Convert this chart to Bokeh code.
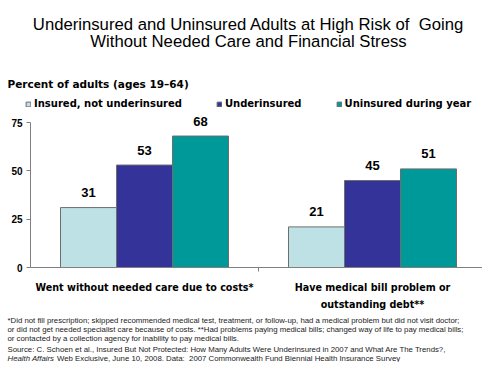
from bokeh.plotting import figure
from bokeh.models import ColumnDataSource, Range1d, FixedTicker, Label
from bokeh.core.properties import value
from bokeh.embed import file_html
from bokeh.resources import INLINE

# ---- data ----
categories = ["Went without needed care due to costs*",
              "Have medical bill problem or\noutstanding debt**"]
series_names = ["Insured, not underinsured", "Underinsured", "Uninsured during year"]
insured = [31, 21]
underinsured = [53, 45]
uninsured = [68, 51]
y_ticks = [0, 25, 50, 75]
colors = ["#BDE1E4", "#333399", "#009999"]

title_lines = ["Underinsured and Uninsured Adults at High Risk of\u00a0 Going",
               "Without Needed Care and Financial Stress"]
y_title = "Percent of adults (ages 19\u201364)"
notes = [
    "*Did not fill prescription; skipped recommended medical test, treatment, or follow-up, had a medical problem but did not visit doctor;",
    "or did not get needed specialist care because of costs. **Had problems paying medical bills; changed way of life to pay medical bills;",
    "or contacted by a collection agency for inability to pay medical bills.",
    "Source: C. Schoen et al., Insured But Not Protected: How Many Adults Were Underinsured in 2007 and What Are The Trends?,",
]
source_italic = "Health Affairs"
source_rest = "Web Exclusive, June 10, 2008. Data:\u00a0 2007 Commonwealth Fund Biennial Health Insurance Survey"

# ---- layout (frame covers the whole figure; axes drawn at fixed locations) ----
W, H = 482, 362
AX_X, AX_Y = 30, 267          # pixel position of the axes origin
KX = 228.0                    # pixels per category
KY = 145 / 75.0               # pixels per percent


def X(px):
    return (px - AX_X) / KX


def Y(py):
    return (AX_Y - py) / KY


FONT = "Liberation Sans"
BOLD = "DejaVu Sans"
NOTE_SIZE = "7.8px"

p = figure(width=W, height=H, output_backend="svg", toolbar_location=None,
           x_range=Range1d(X(0), X(W)), y_range=Range1d(Y(H), Y(0)),
           min_border=0, min_border_left=0, min_border_right=0,
           min_border_top=0, min_border_bottom=0,
           background_fill_color="white", border_fill_color="white")
p.outline_line_color = None
p.grid.visible = False

bw = 56 / 228.0
offsets = [-bw, 0.0, bw]
centers = [i + 0.5 for i in range(len(categories))]
all_vals = [insured, underinsured, uninsured]

for name, vals, col, off in zip(series_names, all_vals, colors, offsets):
    src = ColumnDataSource(dict(x=[c + off for c in centers], top=vals,
                                lbl=[str(v) for v in vals]))
    p.vbar(x="x", top="top", bottom=0, width=bw, source=src, fill_color=col,
           line_color="#6E6E6E", line_width=1, legend_label=name)
    p.text(x="x", y="top", text="lbl", source=src, text_align="center",
           text_baseline="middle", y_offset=-15, text_font=value(FONT),
           text_font_style="bold", text_font_size="13px", text_color="black")

# axes
p.yaxis.fixed_location = 0
p.yaxis.ticker = FixedTicker(ticks=y_ticks)
p.yaxis.bounds = (0, 75)
p.yaxis.axis_line_color = "#808080"
p.yaxis.major_tick_line_color = "#808080"
p.yaxis.major_tick_out = 4
p.yaxis.major_tick_in = 0
p.yaxis.minor_tick_line_color = None
p.yaxis.major_label_standoff = 4
p.yaxis.major_label_text_font = FONT
p.yaxis.major_label_text_font_style = "bold"
p.yaxis.major_label_text_font_size = "10px"
p.yaxis.major_label_text_color = "black"

p.xaxis.fixed_location = 0
p.xaxis.ticker = FixedTicker(ticks=centers, minor_ticks=[1, 2])
p.xaxis.bounds = (0, 2)
p.xaxis.major_label_overrides = {c: lab for c, lab in zip(centers, categories)}
p.xaxis.axis_line_color = "#808080"
p.xaxis.major_tick_line_color = None
p.xaxis.major_tick_out = 0
p.xaxis.major_tick_in = 0
p.xaxis.minor_tick_line_color = "#808080"
p.xaxis.minor_tick_out = 4
p.xaxis.minor_tick_in = 0
p.xaxis.major_label_standoff = 10
p.xaxis.major_label_text_font = BOLD
p.xaxis.major_label_text_font_style = "bold"
p.xaxis.major_label_text_font_size = "9.6px"
p.xaxis.major_label_text_color = "black"
p.xaxis.major_label_text_line_height = 1.6

# legend
lg = p.legend[0]
lg.orientation = "horizontal"
lg.location = (25, H - 103 - 6.5)
lg.spacing = 34
lg.glyph_width = 6
lg.glyph_height = 6
lg.label_standoff = 3
lg.padding = 0
lg.margin = 0
lg.label_height = 12
lg.border_line_color = None
lg.background_fill_alpha = 0
lg.label_text_font = BOLD
lg.label_text_font_style = "bold"
lg.label_text_font_size = "10px"
lg.label_text_color = "black"

# texts
for line, py in zip(title_lines, [24, 41]):
    p.add_layout(Label(x=X(248), y=Y(py), text=line, text_align="center",
                       text_baseline="middle", text_font=FONT,
                       text_font_size="16.7px", text_color="black"))

p.add_layout(Label(x=X(7), y=Y(83), text=y_title, text_align="left",
                   text_baseline="middle", text_font=BOLD, text_font_style="bold",
                   text_font_size="10.5px", text_color="black"))

for line, py in zip(notes, [320, 329, 338, 349]):
    p.add_layout(Label(x=X(7), y=Y(py), text=line, text_align="left",
                       text_baseline="middle", text_font=FONT,
                       text_font_size=NOTE_SIZE, text_color="#222222"))
p.add_layout(Label(x=X(7), y=Y(357.5), text=source_italic, text_align="left",
                   text_baseline="middle", text_font=FONT, text_font_style="italic",
                   text_font_size=NOTE_SIZE, text_color="#222222"))
p.add_layout(Label(x=X(56.5), y=Y(357.5), text=source_rest, text_align="left",
                   text_baseline="middle", text_font=FONT,
                   text_font_size=NOTE_SIZE, text_color="#222222"))

open("out.html", "w").write(file_html(p, INLINE))
